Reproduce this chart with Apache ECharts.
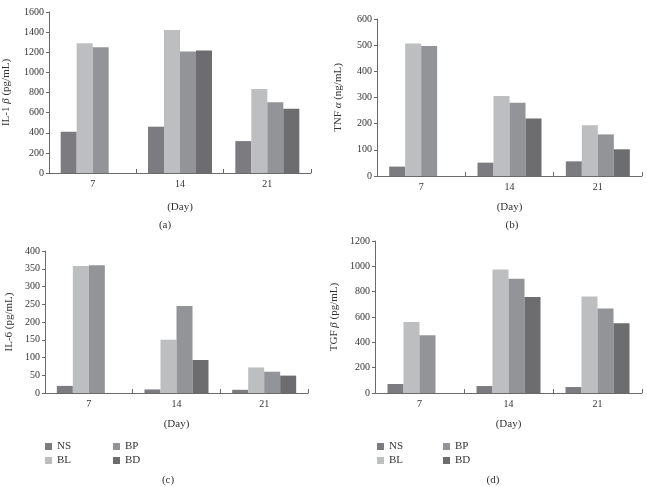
<!DOCTYPE html>
<html>
<head>
<meta charset="utf-8">
<script src="https://cdn.jsdelivr.net/npm/echarts@6/dist/echarts.min.js"></script>
<style>
  html, body { margin: 0; padding: 0; background: #fff; }
  #chart { width: 647px; height: 487px; }
</style>
</head>
<body>
<div id="chart"></div>
<script>
// categories and groups
const days = ['7', '14', '21'];
const groups = ['NS', 'BL', 'BP', 'BD'];
const groupColors = ['#7b7b80', '#bdbec0', '#939497', '#6d6d70'];

// (a) IL-1 beta, pg/mL
const il1bNS = [410, 460, 317];
const il1bBL = [1289, 1421, 836];
const il1bBP = [1250, 1207, 704];
const il1bBD = [null, 1217, 638];

// (b) TNF alpha, ng/mL
const tnfNS = [36, 51, 56];
const tnfBL = [506, 306, 194];
const tnfBP = [497, 280, 159];
const tnfBD = [null, 220, 102];

// (c) IL-6, pg/mL
const il6NS = [20, 10, 9];
const il6BL = [358, 150, 72];
const il6BP = [360, 245, 60];
const il6BD = [null, 93, 49];

// (d) TGF beta, pg/mL
const tgfNS = [71, 55, 47];
const tgfBL = [561, 975, 762];
const tgfBP = [456, 901, 668];
const tgfBD = [null, 757, 550];

const font = 'Liberation Serif';
const axisColor = '#6a6a6a';

const panels = [
    { grid: { left: 45, top: 12, width: 266, height: 161 }, max: 1600, interval: 200,
      yName: '{n|IL-1 }{i|β}{n| (pg/mL)}', yGap: 37, xGap: 29,
      data: [il1bNS, il1bBL, il1bBP, il1bBD], tag: '(a)', tagPos: [160, 215] },
    { grid: { left: 377, top: 19, width: 265, height: 157 }, max: 600, interval: 100,
      yName: '{n|TNF }{i|α}{n| (ng/mL)}', yGap: 33, xGap: 26,
      data: [tnfNS, tnfBL, tnfBP, tnfBD], tag: '(b)', tagPos: [507, 215] },
    { grid: { left: 45, top: 251, width: 263, height: 142 }, max: 400, interval: 50,
      yName: '{n|IL-6 (pg/mL)}', yGap: 30, xGap: 26,
      data: [il6NS, il6BL, il6BP, il6BD], tag: '(c)', tagPos: [163, 470] },
    { grid: { left: 375, top: 241, width: 267, height: 152 }, max: 1200, interval: 200,
      yName: '{n|TGF }{i|β}{n| (pg/mL)}', yGap: 35, xGap: 26,
      data: [tgfNS, tgfBL, tgfBP, tgfBD], tag: '(d)', tagPos: [488, 470] }
];

const chart = echarts.init(document.getElementById('chart'));

const grids = [], xAxes = [], yAxes = [], series = [], titles = [];
panels.forEach((p, i) => {
    grids.push(p.grid);
    xAxes.push({
        type: 'category', gridIndex: i, data: days,
        name: '(Day)', nameLocation: 'middle', nameGap: p.xGap,
        nameTextStyle: { fontFamily: font, fontSize: 11, color: '#333' },
        axisLine: { lineStyle: { color: axisColor, width: 1 } },
        axisTick: { show: true, inside: true, length: 4, lineStyle: { color: axisColor } },
        axisLabel: { fontFamily: font, fontSize: 10, color: '#333', margin: 6 }
    });
    yAxes.push({
        type: 'value', gridIndex: i, min: 0, max: p.max, interval: p.interval,
        name: p.yName, nameLocation: 'middle', nameGap: p.yGap,
        nameTextStyle: {
            fontFamily: font, fontSize: 11, color: '#333',
            rich: {
                n: { fontFamily: font, fontSize: 11, color: '#333' },
                i: { fontFamily: font, fontSize: 11, color: '#333', fontStyle: 'italic' }
            }
        },
        axisLine: { show: true, lineStyle: { color: axisColor, width: 1 } },
        axisTick: { show: true, length: 3, lineStyle: { color: axisColor } },
        axisLabel: { fontFamily: font, fontSize: 10, color: '#333', margin: 5,
                     formatter: v => String(v) },
        splitLine: { show: false }
    });
    groups.forEach((g, k) => {
        series.push({
            name: g, type: 'bar', xAxisIndex: i, yAxisIndex: i,
            data: p.data[k], barWidth: 16, barGap: '0%',
            itemStyle: { color: groupColors[k] },
            emphasis: { disabled: true }
        });
    });
    titles.push({
        text: p.tag, left: p.tagPos[0], top: p.tagPos[1], textAlign: 'center',
        textStyle: { fontFamily: font, fontSize: 11, fontWeight: 'normal', color: '#333' }
    });
});

const legendBase = {
    orient: 'vertical', icon: 'rect', itemWidth: 7, itemHeight: 7, itemGap: 3,
    selectedMode: false,
    textStyle: { fontFamily: font, fontSize: 11, color: '#333' }
};
const legends = [
    Object.assign({}, legendBase, { data: ['NS', 'BL'], left: 40, top: 436 }),
    Object.assign({}, legendBase, { data: ['BP', 'BD'], left: 108, top: 436 }),
    Object.assign({}, legendBase, { data: ['NS', 'BL'], left: 372, top: 436 }),
    Object.assign({}, legendBase, { data: ['BP', 'BD'], left: 438, top: 436 })
];

chart.setOption({
    animation: false,
    backgroundColor: '#fff',
    title: titles,
    legend: legends,
    grid: grids,
    xAxis: xAxes,
    yAxis: yAxes,
    series: series
});
</script>
</body>
</html>
